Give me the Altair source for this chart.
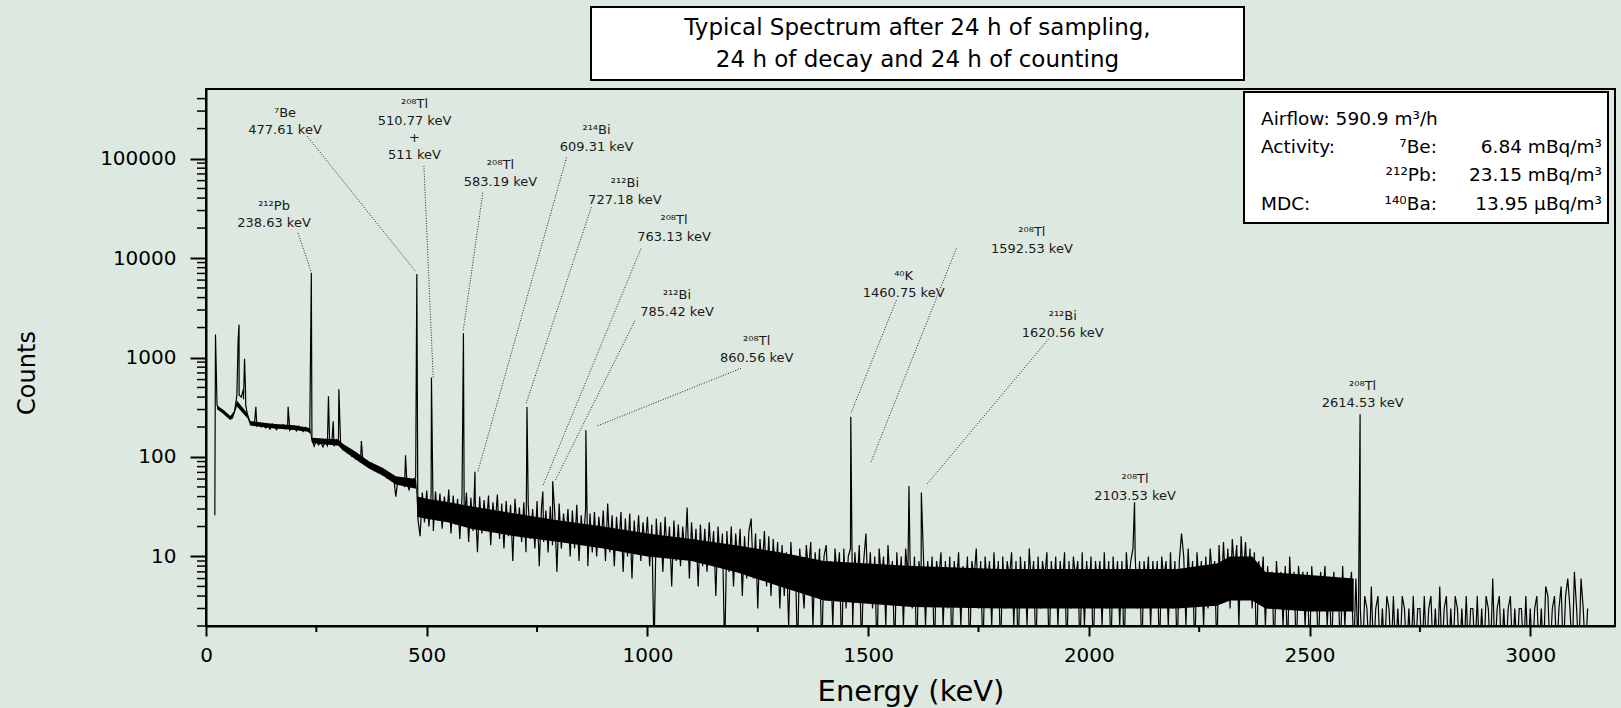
import altair as alt
import pandas as pd

# ---------------- spectrum continuum (counts, one value every 5 keV) ----------------
STEP = 5
seg_a_start = 25
seg_a_counts = [
    330, 305, 290, 275, 262, 250, 240, 248, 290, 420,
    420, 400, 380, 330, 250, 225, 215, 222, 205, 218,
    200, 212, 196, 208, 190, 215, 200, 188, 206, 195,
    210, 192, 205, 186, 200, 194, 183, 204, 190, 180,
    198, 185, 176, 150, 128, 146, 132, 140, 126, 142,
    130, 145, 138, 128, 150, 140, 132, 118, 124, 110,
    115, 102, 108, 95, 100, 88, 96, 84, 90, 80,
    86, 74, 80, 70, 76, 66, 72, 62, 68, 58,
    64, 40, 60, 54, 58, 50, 56, 47, 55, 60,
    62,
]
seg_b_start = 480
seg_b_counts = [
    24, 16, 44, 22, 46, 20, 42, 18, 45, 23,
    43, 19, 40, 24, 47, 17, 41, 21, 38, 15,
    40, 22, 44, 14, 39, 18, 36, 11, 40, 17,
    37, 19, 41, 13, 35, 20, 42, 15, 34, 12,
    36, 16, 33, 9, 38, 18, 31, 14, 35, 11,
    33, 15, 30, 12, 36, 8, 31, 14, 29, 11,
    32, 13, 28, 7, 34, 12, 27, 15, 30, 10,
    29, 12, 33, 9, 26, 14, 30, 8, 27, 11,
    28, 10, 25, 13, 29, 9, 34, 11, 26, 8,
    25, 12, 28, 7, 24, 10, 27, 6, 23, 11,
    26, 9, 22, 12, 25, 8, 21, 1, 24, 10,
    22, 7, 25, 10, 20, 5, 23, 9, 21, 8,
    20, 10, 31, 6, 22, 9, 19, 5, 21, 8,
    19, 7, 22, 9, 18, 4, 20, 8, 17, 1,
    18, 7, 20, 5, 17, 8, 19, 4, 16, 6,
    18, 24, 6, 17, 3, 15, 7, 18, 5, 16,
    4, 15, 6, 14, 3,
]
seg_c_start = 1305
seg_c_counts = [
    13, 4, 11, 2, 14, 5, 10, 1, 12, 6,
    3, 13, 7, 14, 2, 11, 5, 12, 1, 10,
    13, 4, 9, 2, 12, 6, 11, 1, 12, 3,
    10, 12, 2, 11, 5, 13, 1, 9, 17, 4,
    11, 3, 10, 1, 12, 6, 10, 2, 13, 5,
    9, 1, 11, 4, 10, 2, 12, 6, 9, 3,
    10, 1, 9, 5, 11, 2, 9, 4, 10, 1,
    9, 6, 11, 2, 9, 3, 10, 1, 9, 5,
    11, 2, 8, 4, 10, 1, 9, 6, 12, 3,
    9, 1, 10, 5, 9, 2, 11, 4, 9, 1,
    10, 3, 9, 6, 11, 2, 9, 1, 10, 4,
    9, 2, 12, 5, 9, 1, 10, 3, 9, 6,
    11, 1, 9, 4, 10, 2, 9, 5, 11, 1,
    9, 3, 10, 6, 9, 1, 11, 2, 9, 4,
    10, 1, 9, 5, 9, 2, 11, 3, 9, 1,
    10, 4, 9, 2, 9, 1, 11, 5, 9, 12,
    10, 3, 9, 1, 9, 5, 10, 2, 9, 4,
    9, 1, 10, 6, 9, 2, 11, 3, 9, 1,
    9, 17, 10, 2, 12, 4, 9, 1, 11, 5,
    9, 2, 10, 3, 12, 6, 9, 1, 13, 4,
    14, 5, 12, 3, 15, 7, 13, 2, 16, 6,
    14, 4, 12, 3, 11, 1, 9, 5, 10, 2,
    8, 3, 7, 1, 9, 4, 7, 2, 8, 1,
    10, 3, 7, 1, 8, 4, 7, 2, 7, 1,
    8, 3, 6, 1, 7, 4, 8, 2, 6, 1,
    7, 3, 5, 1, 8, 2, 6, 4, 7, 1,
]
seg_d_start = 2605
seg_d_counts = [
    6, 1, 3, 1, 4, 3, 1, 5, 1, 3,
    4, 1, 3, 1, 4, 3, 1, 4, 1, 3,
    1, 4, 3, 1, 3, 1, 4, 1, 3, 3,
    1, 4, 1, 3, 4, 1, 3, 1, 5, 1,
    3, 4, 1, 3, 1, 4, 3, 1, 3, 1,
    4, 1, 3, 3, 1, 4, 1, 3, 1, 4,
    3, 1, 6, 1, 3, 4, 1, 3, 1, 3,
    4, 1, 3, 1, 3, 3, 1, 4, 1, 3,
    1, 3, 4, 1, 3, 1, 5, 4, 1, 3,
    4, 1, 3, 5, 1, 4, 6, 3, 1, 7,
    3, 1, 6, 3, 1, 3,
]

# ---------------- dense noise core of the spectrum (solid black band) ----------------
band_energy = [25, 40, 55, 63, 70, 95, 100, 150, 200, 236,
               240, 300, 310, 340, 370, 400, 430, 476, 479, 500,
               550, 600, 700, 800, 900, 1000, 1100, 1200, 1300, 1400,
               1600, 1800, 2000, 2200, 2290, 2320, 2370, 2400, 2500, 2600]
band_low = [302, 270, 238, 264, 322, 242, 207, 194, 187, 178,
            138, 130, 117, 94, 76, 65, 53, 48, 25, 24,
            22, 19, 16, 14, 12, 10, 9, 7, 5, 3.6,
            3.1, 3.0, 3.0, 3.0, 3.2, 3.6, 3.6, 3.0, 2.8, 2.8]
band_high = [330, 296, 258, 286, 370, 270, 230, 216, 208, 196,
             156, 150, 136, 112, 90, 78, 64, 60, 40, 38,
             35, 32, 27, 23, 20, 17, 15, 13, 11, 9,
             8, 7.5, 7.5, 7.5, 8.5, 10, 10, 7, 6.5, 6]

# ---------------- narrow peaks (energy keV, counts at top) ----------------
peak_energy = [20.0, 21.5, 72.8, 74.9, 84.9, 87.3, 89.6, 113.0, 186.0, 238.63,
               277.4, 288.2, 301.0, 352.0, 452.0, 477.61, 510.77, 583.19, 609.31,
               727.18, 763.13, 785.42, 860.56, 1460.75, 1592.53, 1620.56,
               2103.53, 2614.53]
peak_counts = [26, 1700, 1500, 2140, 480, 970, 460, 320, 320, 7100,
               407, 228, 480, 145, 104, 6900, 630, 1750, 71,
               318, 45, 57, 186, 253, 51, 44,
               35, 269]

# ---------------- peak labels (anchor = baseline of the last line) ----------------
label_energy = [154.1, 179.0, 472.4, 667.0, 884.7, 949.0, 1060.3, 1067.0, 1247.6,
                1580.4, 1871.0, 1940.9, 2104.7, 2620.3]
label_counts = [20610, 177400, 100000, 52360, 118100, 34910, 14790, 2642, 901,
                4058, 11120, 1600, 36.7, 315]
label_lines = [
    ["²¹²Pb", "238.63 keV"],
    ["⁷Be", "477.61 keV"],
    ["²⁰⁸Tl", "510.77 keV", "+", "511 keV"],
    ["²⁰⁸Tl", "583.19 keV"],
    ["²¹⁴Bi", "609.31 keV"],
    ["²¹²Bi", "727.18 keV"],
    ["²⁰⁸Tl", "763.13 keV"],
    ["²¹²Bi", "785.42 keV"],
    ["²⁰⁸Tl", "860.56 keV"],
    ["⁴⁰K", "1460.75 keV"],
    ["²⁰⁸Tl", "1592.53 keV"],
    ["²¹²Bi", "1620.56 keV"],
    ["²⁰⁸Tl", "2103.53 keV"],
    ["²⁰⁸Tl", "2614.53 keV"],
]

# ---------------- dotted leader lines ----------------
leader_e1 = [208.6, 228.8, 493.7, 627.1, 816.7, 872.9, 985.5, 971.5, 1212.0, 1563.9, 1699.8, 1908.2]
leader_c1 = [17820, 168600, 84300, 45290, 102300, 32360, 12480, 2335, 779, 3770, 12480, 1523]
leader_e2 = [237.9, 474.8, 514.7, 582.5, 615.3, 725.4, 762.8, 790.7, 884.7, 1460.8, 1505.4, 1633.4]
leader_c2 = [7330, 7330, 628, 1841, 69.7, 346.7, 50.9, 57.5, 203.8, 272, 86.6, 53.3]

# ---------------- axes ----------------
x_ticks = [0, 500, 1000, 1500, 2000, 2500, 3000]
x_minor = [250, 750, 1250, 1750, 2250, 2750]
y_ticks = [10, 100, 1000, 10000, 100000]
y_minor = [2, 3, 4, 5, 6, 7, 8, 9,
           20, 30, 40, 50, 60, 70, 80, 90,
           200, 300, 400, 500, 600, 700, 800, 900,
           2000, 3000, 4000, 5000, 6000, 7000, 8000, 9000,
           20000, 30000, 40000, 50000, 60000, 70000, 80000, 90000,
           200000, 300000, 400000]

title_lines = ["Typical Spectrum after 24 h of sampling,", "24 h of decay and 24 h of counting"]
info_left = ["Airflow: 590.9 m³/h", "Activity:", "", "MDC:"]
info_mid = ["", "⁷Be:", "²¹²Pb:", "¹⁴⁰Ba:"]
info_right = ["", "6.84 mBq/m³", "23.15 mBq/m³", "13.95 μBq/m³"]

# ---------------- build tables ----------------
energies, counts = [], []
for start, seg in [(seg_a_start, seg_a_counts), (seg_b_start, seg_b_counts),
                   (seg_c_start, seg_c_counts), (seg_d_start, seg_d_counts)]:
    for i, v in enumerate(seg):
        energies.append(start + STEP * i)
        counts.append(v)
energies += peak_energy
counts += peak_counts
spec_df = pd.DataFrame({"E": energies, "C": counts}).sort_values("E").reset_index(drop=True)
band_df = pd.DataFrame({"E": band_energy, "lo": band_low, "hi": band_high})

rows = []
for e, c, lines in zip(label_energy, label_counts, label_lines):
    n = len(lines)
    for i, t in enumerate(lines):
        rows.append({"E": e, "C": c, "t": t, "k": n - 1 - i})
lab_df = pd.DataFrame(rows)

leader_df = pd.DataFrame({"e1": leader_e1, "c1": leader_c1, "e2": leader_e2, "c2": leader_c2})

FONT = "DejaVu Sans"
BG = "#dde9e0"
W, H = 1409, 537
XS = alt.Scale(domain=[0, 3192], nice=False, zero=False)
YS = alt.Scale(type="log", domain=[2, 500000], nice=False)
AX_X = alt.Axis(values=x_ticks, title=None, grid=False, format="d",
                domainColor="black", domainWidth=2, tickColor="black", tickWidth=2, tickSize=10,
                labelFont=FONT, labelFontSize=20, labelColor="black", labelPadding=9,
                labelFlush=False, labelOverlap=False)
AX_Y = alt.Axis(values=y_ticks, title=None, grid=False, format="d",
                domainColor="black", domainWidth=2, tickColor="black", tickWidth=2, tickSize=16,
                labelFont=FONT, labelFontSize=20, labelColor="black", labelPadding=14,
                labelOverlap=False)
one = pd.DataFrame({"a": [0]})


def X(f):
    return alt.X(f, scale=XS, axis=AX_X)


def Y(f):
    return alt.Y(f, scale=YS, axis=AX_Y)


band = alt.Chart(band_df).mark_area(color="black", clip=True).encode(
    x=X("E:Q"), y=Y("lo:Q"), y2="hi")

spectrum = alt.Chart(spec_df).mark_line(color="black", strokeWidth=1.2, clip=True).encode(
    x=X("E:Q"), y=Y("C:Q"))

y_minor_layer = alt.Chart(pd.DataFrame({"v": y_minor})).mark_rule(color="black", strokeWidth=1.5).encode(
    y=Y("v:Q"), x=alt.value(-9), x2=alt.value(0))
x_minor_layer = alt.Chart(pd.DataFrame({"v": x_minor})).mark_rule(color="black", strokeWidth=2).encode(
    x=X("v:Q"), y=alt.value(H), y2=alt.value(H + 6))

leaders = alt.Chart(leader_df).mark_rule(color="#222222", strokeWidth=1, strokeDash=[1, 1.6]).encode(
    x=X("e1:Q"), x2="e2", y=Y("c1:Q"), y2="c2")

label_layers = []
for k in range(4):
    label_layers.append(
        alt.Chart(lab_df).transform_filter(f"datum.k == {k}").mark_text(
            font=FONT, fontSize=13, color="#1a1a1a", dy=-17 * k,
            baseline="alphabetic", align="center").encode(
            x=X("E:Q"), y=Y("C:Q"), text="t:N"))


def box(x1, x2, y1, y2):
    return alt.Chart(one).mark_rect(fill="white", stroke="black", strokeWidth=2).encode(
        x=alt.value(x1), x2=alt.value(x2), y=alt.value(y1), y2=alt.value(y2))


def txt(s, x, y, size, align="left", angle=0, baseline="alphabetic"):
    return alt.Chart(one).mark_text(text=s, font=FONT, fontSize=size, color="black",
                                    align=align, baseline=baseline, angle=angle).encode(
        x=alt.value(x), y=alt.value(y))


extras = []
# title box above the plot
extras.append(box(385, 1038, -82, -9))
extras.append(txt(title_lines[0], 711.5, -54, 23, align="center"))
extras.append(txt(title_lines[1], 711.5, -22, 23, align="center"))
# info box
extras.append(box(1038, 1402, 3, 134))
row_y = [35.5, 64.3, 91.7, 120.5]
for yy, l, m, r in zip(row_y, info_left, info_mid, info_right):
    if l:
        extras.append(txt(l, 1055, yy, 18.5, align="left"))
    if m:
        extras.append(txt(m, 1231, yy, 18.5, align="right"))
    if r:
        extras.append(txt(r, 1396, yy, 18.5, align="right"))
# axis titles
extras.append(txt("Counts", -178, 284, 24, align="center", angle=270, baseline="middle"))
extras.append(txt("Energy (keV)", 705, 603, 29, align="center", baseline="middle"))

chart = alt.layer(
    band, spectrum, y_minor_layer, x_minor_layer, leaders, *label_layers, *extras
).properties(
    width=W, height=H,
    padding={"left": 206, "top": 89, "right": 6, "bottom": 82},
    autosize=alt.AutoSizeParams(type="none"),
).configure(background=BG, font=FONT).configure_view(stroke="black", strokeWidth=2)

chart.save("out.html", embed_options={"renderer": "svg", "actions": False})
